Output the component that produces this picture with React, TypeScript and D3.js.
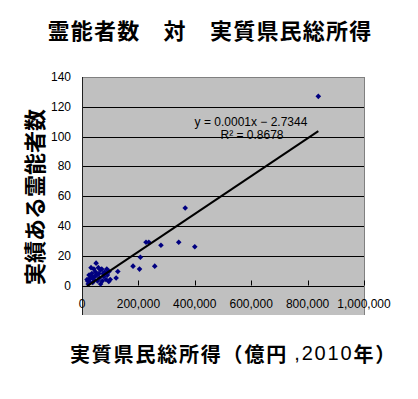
import React from "react";
import * as d3 from "d3";

const incomes: number[] = [
  838000, 366000, 400000, 343000, 280000, 227000, 237000, 258000, 207000, 204000, 181000,
  50000, 42000, 65000, 30000, 18000, 42000, 77000, 95000, 96000, 121000, 127000,
  25000, 35000, 28000, 22000, 38000, 45000, 55000, 60000, 70000, 72000, 80000,
  85000, 88000, 58000, 32000, 48000, 62000, 66000, 90000, 100000, 26000, 36000,
  52000, 75000, 20000,
];
const psychics: number[] = [
  127, 52, 26, 29, 27, 29, 29, 13, 19, 11, 13,
  15, 11, 10.5, 5, 4, 4, 6, 2.7, 9.4, 5, 9.4,
  7, 8, 2, 1, 2, 6, 3, 8, 11, 3, 9,
  4, 11, 12, 12, 9, 5, 1, 7, 4, 4, 6,
  7, 8, 3,
];
const xTicks: number[] = [0, 200000, 400000, 600000, 800000, 1000000];
const yTicks: number[] = [0, 20, 40, 60, 80, 100, 120, 140];
const trendSlope = 0.000127;
const trendIntercept = -2.7344;
const equationText = "y = 0.0001x − 2.7344";
const r2Text = "R² = 0.8678";
const titleText = "霊能者数　対　実質県民総所得";
const yTitle = "実績ある霊能者数";
const xTitleA = "実質県民総所得（億円 ";
const xTitleB = ",2010";
const xTitleC = "年）";

const JP = "'Noto Sans CJK JP', sans-serif";
const LAT = "'Liberation Sans', Arial, sans-serif";

export default function App() {
  const left = 82;
  const right = 364;
  const top = 77;
  const bottom = 285.5;
  const grayBottom = 315;
  const x = d3.scaleLinear().domain([0, 1000000]).range([left, right]);
  const y = d3.scaleLinear().domain([0, 140]).range([bottom, top]);
  const fmt = d3.format(",");
  const pts = incomes.map((v, i) => ({ x: v, y: psychics[i] }));
  const xMin = d3.min(incomes) as number;
  const xMax = d3.max(incomes) as number;
  const line = d3
    .line<number>()
    .x((d) => x(d))
    .y((d) => y(trendSlope * d + trendIntercept));
  const r = 2.8;
  const diamond = `M0,${-r}L${r},0L0,${r}L${-r},0Z`;
  const px = (v: number) => Math.round(v) + 0.5;

  const gridPath = yTicks
    .slice(1)
    .map((t) => `M${left},${px(y(t))}H${right}`)
    .join("");
  const tickPath = xTicks
    .slice(1)
    .map((t) => `M${px(x(t))},${bottom - 5}V${bottom}`)
    .join("");

  return (
    <svg
      width={418}
      height={399}
      viewBox="0 0 418 399"
      style={{ position: "absolute", left: 0, top: 0, display: "block", background: "#ffffff" }}
    >
      <rect x={0} y={0} width={418} height={399} fill="#ffffff" />
      <rect x={left} y={top} width={right - left} height={grayBottom - top} fill="#c0c0c0" />
      <path d={gridPath} stroke="#000000" strokeWidth={1} fill="none" />
      <path d={`M${left},${px(top)}H${right}`} stroke="#808080" strokeWidth={1} fill="none" />
      <path d={`M${px(right)},${top}V${grayBottom}`} stroke="#808080" strokeWidth={1} fill="none" />
      <path d={`M${px(left)},${top}V${grayBottom}`} stroke="#202020" strokeWidth={1} fill="none" />
      <path d={`M${left},${px(bottom)}H${right}`} stroke="#000000" strokeWidth={1} fill="none" />
      <path d={tickPath} stroke="#000000" strokeWidth={1} fill="none" />

      <text
        x={210}
        y={29}
        textAnchor="middle"
        dominantBaseline="central"
        fontFamily={JP}
        fontWeight="bold"
        fontSize={22}
        letterSpacing={1.2}
        fill="#000"
      >
        {titleText}
      </text>

      {yTicks.map((t) => (
        <text
          key={t}
          x={71}
          y={y(t)}
          textAnchor="end"
          dominantBaseline="central"
          fontFamily={LAT}
          fontSize={12}
          fill="#000"
        >
          {t}
        </text>
      ))}
      {xTicks.map((t) => (
        <text
          key={t}
          x={x(t)}
          y={304}
          textAnchor="middle"
          dominantBaseline="central"
          fontFamily={LAT}
          fontSize={12}
          fill="#000"
        >
          {fmt(t)}
        </text>
      ))}

      {pts.map((p, i) => (
        <path key={i} d={diamond} transform={`translate(${x(p.x)},${y(p.y)})`} fill="#000080" />
      ))}

      <path d={line([xMin, xMax]) || ""} stroke="#000" strokeWidth={2} fill="none" />

      <text
        x={251}
        y={122}
        textAnchor="middle"
        dominantBaseline="central"
        fontFamily={LAT}
        fontSize={12}
        fill="#000"
      >
        {equationText}
      </text>
      <text
        x={252}
        y={135}
        textAnchor="middle"
        dominantBaseline="central"
        fontFamily={LAT}
        fontSize={12}
        fill="#000"
      >
        {r2Text}
      </text>

      <text
        transform={`translate(33,197) rotate(-90)`}
        textAnchor="middle"
        dominantBaseline="central"
        fontFamily={JP}
        fontWeight="bold"
        fontSize={22}
        fill="#000"
      >
        {yTitle}
      </text>

      <text
        x={70}
        y={353}
        dominantBaseline="central"
        fontFamily={JP}
        fontWeight="bold"
        fontSize={20}
        letterSpacing={1.8}
        fill="#000"
      >
        {xTitleA}
        <tspan fontFamily={LAT} fontWeight="normal">{xTitleB}</tspan>
        {xTitleC}
      </text>
    </svg>
  );
}
